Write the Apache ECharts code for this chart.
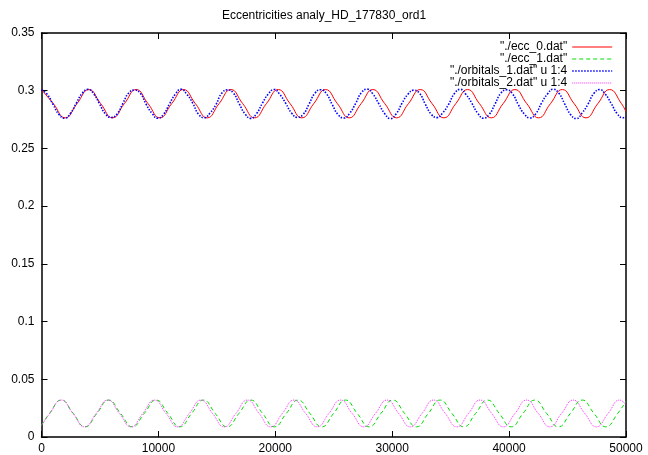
<!DOCTYPE html>
<html>
<head>
<meta charset="utf-8">
<script src="https://cdn.jsdelivr.net/npm/echarts/dist/echarts.min.js"></script>
<style>
  html, body { margin: 0; padding: 0; background: #ffffff; }
  #chart { width: 648px; height: 455px; }
</style>
</head>
<body>
<div id="chart"></div>
<script>
// Chart text
const titleText = 'Eccentricities analy_HD_177830_ord1';
const seriesNames = ['"./ecc_0.dat"', '"./ecc_1.dat"', '"./orbitals_1.dat" u 1:4', '"./orbitals_2.dat" u 1:4'];

// Axis ranges and tick steps
const xTicks = { min: 0, max: 50000, step: 10000 };
const yTicks = { min: 0, max: 0.35, step: 0.05 };

// ecc_0: analytic eccentricity, planet b  [time, e]
const ecc0 = [
  [0, 0.3010], [1013, 0.2888], [2025, 0.2765], [3038, 0.2888],
  [4050, 0.3010], [5063, 0.2888], [6075, 0.2765], [7088, 0.2888],
  [8100, 0.3010], [9113, 0.2888], [10125, 0.2765], [11138, 0.2888],
  [12150, 0.3010], [13163, 0.2888], [14175, 0.2765], [15188, 0.2888],
  [16200, 0.3010], [17213, 0.2888], [18225, 0.2765], [19238, 0.2888],
  [20250, 0.3010], [21263, 0.2888], [22275, 0.2765], [23288, 0.2888],
  [24300, 0.3010], [25313, 0.2888], [26325, 0.2765], [27338, 0.2888],
  [28350, 0.3010], [29363, 0.2888], [30375, 0.2765], [31388, 0.2888],
  [32400, 0.3010], [33413, 0.2888], [34425, 0.2765], [35438, 0.2888],
  [36450, 0.3010], [37463, 0.2888], [38475, 0.2765], [39488, 0.2888],
  [40500, 0.3010], [41513, 0.2888], [42525, 0.2765], [43538, 0.2888],
  [44550, 0.3010], [45563, 0.2888], [46575, 0.2765], [47588, 0.2888],
  [48600, 0.3010], [49613, 0.2888], [50000, 0.2817]
];

// ecc_1: analytic eccentricity, planet c  [time, e]
const ecc1 = [
  [0, 0.0102], [688, 0.0204], [1700, 0.0320], [2713, 0.0204], [3725, 0.0088],
  [4738, 0.0204], [5750, 0.0320], [6763, 0.0204], [7775, 0.0088],
  [8788, 0.0204], [9800, 0.0320], [10813, 0.0204], [11825, 0.0088],
  [12838, 0.0204], [13850, 0.0320], [14863, 0.0204], [15875, 0.0088],
  [16888, 0.0204], [17900, 0.0320], [18913, 0.0204], [19925, 0.0088],
  [20938, 0.0204], [21950, 0.0320], [22963, 0.0204], [23975, 0.0088],
  [24988, 0.0204], [26000, 0.0320], [27013, 0.0204], [28025, 0.0088],
  [29038, 0.0204], [30050, 0.0320], [31063, 0.0204], [32075, 0.0088],
  [33088, 0.0204], [34100, 0.0320], [35113, 0.0204], [36125, 0.0088],
  [37138, 0.0204], [38150, 0.0320], [39163, 0.0204], [40175, 0.0088],
  [41188, 0.0204], [42200, 0.0320], [43213, 0.0204], [44225, 0.0088],
  [45238, 0.0204], [46250, 0.0320], [47263, 0.0204], [48275, 0.0088],
  [49288, 0.0204], [50000, 0.0308]
];

// orbitals_1, column 4: integrated eccentricity, planet b  [time, e]
const orb1 = [
  [0, 0.3008], [498, 0.2968], [995, 0.2880], [1493, 0.2795], [1990, 0.2762], [2488, 0.2806], [2985, 0.2893], [3483, 0.2978],
  [3980, 0.3012], [4478, 0.2971], [4975, 0.2884], [5473, 0.2798], [5970, 0.2768], [6468, 0.2799], [6965, 0.2891], [7463, 0.2981],
  [7960, 0.3006], [8458, 0.2977], [8955, 0.2882], [9453, 0.2804], [9950, 0.2761], [10448, 0.2797], [10945, 0.2885], [11443, 0.2970],
  [11940, 0.3013], [12438, 0.2969], [12935, 0.2893], [13433, 0.2796], [13930, 0.2766], [14428, 0.2808], [14925, 0.2880], [15423, 0.2979],
  [15920, 0.3007], [16418, 0.2980], [16915, 0.2886], [17413, 0.2799], [17910, 0.2760], [18408, 0.2803], [18905, 0.2894], [19403, 0.2972],
  [19900, 0.3011], [20398, 0.2966], [20895, 0.2890], [21393, 0.2806], [21890, 0.2769], [22388, 0.2795], [22885, 0.2884], [23383, 0.2977],
  [23880, 0.3009], [24378, 0.2974], [24875, 0.2879], [25373, 0.2793], [25870, 0.2763], [26368, 0.2805], [26865, 0.2889], [27363, 0.2983],
  [27860, 0.3014], [28358, 0.2970], [28855, 0.2887], [29353, 0.2802], [29850, 0.2758], [30348, 0.2800], [30845, 0.2892], [31343, 0.2969],
  [31840, 0.3005], [32338, 0.2978], [32835, 0.2883], [33333, 0.2797], [33830, 0.2767], [34328, 0.2809], [34825, 0.2881], [35323, 0.2976],
  [35820, 0.3012], [36318, 0.2967], [36815, 0.2891], [37313, 0.2805], [37810, 0.2761], [38308, 0.2796], [38805, 0.2887], [39303, 0.2980],
  [39800, 0.3008], [40298, 0.2973], [40795, 0.2878], [41293, 0.2799], [41790, 0.2764], [42288, 0.2802], [42785, 0.2895], [43283, 0.2971],
  [43760, 0.3013], [44258, 0.2979], [44755, 0.2886], [45253, 0.2794], [45750, 0.2759], [46248, 0.2807], [46745, 0.2883], [47243, 0.2975],
  [47740, 0.3010], [48238, 0.2969], [48735, 0.2890], [49233, 0.2803], [49730, 0.2766], [50000, 0.2776]
];

// orbitals_2, column 4: integrated eccentricity, planet c  [time, e]
const orb2 = [
  [0, 0.0100], [705, 0.0204], [1700, 0.0320], [2695, 0.0204], [3690, 0.0088],
  [4685, 0.0204], [5680, 0.0320], [6675, 0.0204], [7670, 0.0088],
  [8665, 0.0204], [9660, 0.0320], [10655, 0.0204], [11650, 0.0088],
  [12645, 0.0204], [13640, 0.0320], [14635, 0.0204], [15630, 0.0088],
  [16625, 0.0204], [17620, 0.0320], [18615, 0.0204], [19610, 0.0088],
  [20605, 0.0204], [21600, 0.0320], [22595, 0.0204], [23590, 0.0088],
  [24585, 0.0204], [25580, 0.0320], [26575, 0.0204], [27570, 0.0088],
  [28565, 0.0204], [29560, 0.0320], [30555, 0.0204], [31550, 0.0088],
  [32545, 0.0204], [33540, 0.0320], [34535, 0.0204], [35530, 0.0088],
  [36525, 0.0204], [37520, 0.0320], [38515, 0.0204], [39510, 0.0088],
  [40505, 0.0204], [41500, 0.0320], [42495, 0.0204], [43490, 0.0088],
  [44485, 0.0204], [45480, 0.0320], [46475, 0.0204], [47470, 0.0088],
  [48465, 0.0204], [49460, 0.0320], [50000, 0.0280]
];

const FONT = '"Liberation Sans", Arial, Helvetica, sans-serif';
const frame = { lineStyle: { color: '#000000', width: 1.5 } };
const inTick = { inside: true, length: 6, lineStyle: { color: '#000000', width: 1 } };

// Per-series stroke styles (colour, width, dash pattern)
const styles = [
  { color: '#ff0000', width: 1, type: 'solid' },
  { color: '#00dd00', width: 1, type: [4, 3] },
  { color: '#0000ff', width: 1.6, type: [1.5, 1.5] },
  { color: '#ff33ff', width: 1, type: [1, 1] }
];

function xAxisOf(position, showLabels) {
  return {
    type: 'value', position: position,
    min: xTicks.min, max: xTicks.max, interval: xTicks.step,
    axisLine: Object.assign({ show: true, onZero: false }, frame),
    axisTick: inTick,
    axisLabel: { show: showLabels, color: '#000000', fontFamily: FONT, fontSize: 12, margin: 6,
                 formatter: function (v) { return String(v); } },
    splitLine: { show: false }
  };
}
function yAxisOf(position, showLabels) {
  return {
    type: 'value', position: position,
    min: yTicks.min, max: yTicks.max, interval: yTicks.step,
    axisLine: Object.assign({ show: true, onZero: false }, frame),
    axisTick: inTick,
    axisLabel: { show: showLabels, color: '#000000', fontFamily: FONT, fontSize: 12, margin: 7,
                 formatter: function (v) { return String(+v.toFixed(2)); } },
    splitLine: { show: false }
  };
}

function lineSeries(name, data, st) {
  return {
    name: name, type: 'line', data: data,
    xAxisIndex: 0, yAxisIndex: 0,
    smooth: true, symbol: 'none', showSymbol: false,
    lineStyle: { color: st.color, width: st.width, type: st.type },
    itemStyle: { color: st.color }
  };
}

const chart = echarts.init(document.getElementById('chart'), null, { renderer: 'canvas' });
chart.setOption({
  animation: false,
  backgroundColor: '#ffffff',
  title: {
    text: titleText, left: 'center', top: 5,
    textStyle: { fontFamily: FONT, fontSize: 12, fontWeight: 'normal', color: '#000000' }
  },
  grid: { left: 41.5, right: 22, top: 33, bottom: 18, containLabel: false },
  legend: {
    orient: 'vertical', right: 30, top: 36, align: 'right',
    itemWidth: 40, itemHeight: 10, itemGap: 0,
    itemStyle: { opacity: 0 },
    textStyle: { fontFamily: FONT, fontSize: 12, color: '#000000', lineHeight: 12 },
    data: seriesNames.map(function (n, i) {
      return { name: n, lineStyle: { color: styles[i].color, width: styles[i].width, type: styles[i].type } };
    })
  },
  xAxis: [xAxisOf('bottom', true), xAxisOf('top', false)],
  yAxis: [yAxisOf('left', true), yAxisOf('right', false)],
  series: [
    lineSeries(seriesNames[0], ecc0, styles[0]),
    lineSeries(seriesNames[1], ecc1, styles[1]),
    lineSeries(seriesNames[2], orb1, styles[2]),
    lineSeries(seriesNames[3], orb2, styles[3])
  ]
});
</script>
</body>
</html>
